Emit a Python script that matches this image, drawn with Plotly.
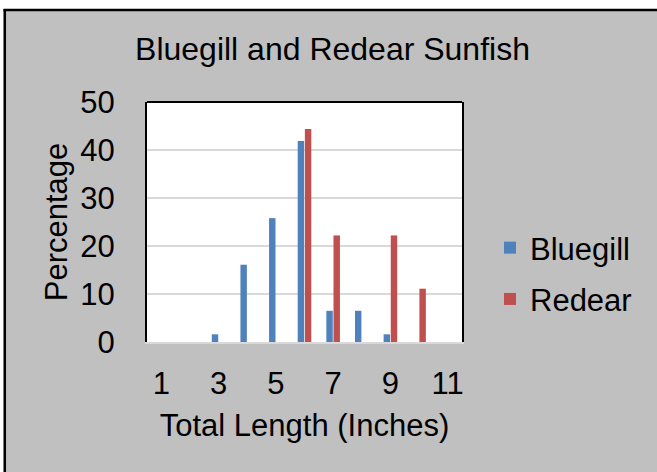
import plotly.graph_objects as go

lengths = [1, 2, 3, 4, 5, 6, 7, 8, 9, 10, 11]
bluegill = [0, 0, 1.6, 16.1, 25.8, 41.9, 6.5, 6.5, 1.6, 0, 0]
redear = [0, 0, 0, 0, 0, 44.4, 22.2, 0, 22.2, 11.1, 0]
tick_labels = ["1", "3", "5", "7", "9", "11"]
tick_vals = [1, 3, 5, 7, 9, 11]

W, H = 657, 472
L, R, T, B = 147, 195, 102, 130
PW, PH = W - L - R, H - T - B

def px(x):
    return (x - L) / PW

def py(y):
    return (H - B - y) / PH

FONT = "Liberation Sans, Arial, sans-serif"
GRAY = "#C0C0C0"

fig = go.Figure()
fig.add_trace(go.Bar(x=lengths, y=bluegill, name="Bluegill",
                     marker=dict(color="#4F81BD", line=dict(width=0)),
                     legendgroup="a"))
fig.add_trace(go.Bar(x=lengths, y=redear, name="Redear",
                     marker=dict(color="#C0504D", line=dict(width=0)),
                     legendgroup="b"))

shapes = [
    dict(type="rect", xref="paper", yref="paper", x0=px(-5), x1=px(W + 5), y0=py(-5), y1=py(9),
         fillcolor="white", line=dict(width=0), layer="below"),
    dict(type="rect", xref="paper", yref="paper", x0=px(-5), x1=px(3.5), y0=py(-5), y1=py(H + 5),
         fillcolor="white", line=dict(width=0), layer="below"),
    dict(type="line", xref="paper", yref="paper", x0=px(3.5), x1=px(W + 5), y0=py(10), y1=py(10),
         line=dict(color="black", width=2.5)),
    dict(type="line", xref="paper", yref="paper", x0=px(4.8), x1=px(4.8), y0=py(9), y1=py(H + 5),
         line=dict(color="black", width=2.5)),
    dict(type="line", xref="paper", yref="paper", x0=0, x1=1, y0=1, y1=1,
         line=dict(color="black", width=2)),
]

fig.update_layout(
    width=W, height=H,
    margin=dict(l=L, r=R, t=T, b=B, pad=0),
    paper_bgcolor=GRAY, plot_bgcolor="white",
    font=dict(family=FONT, size=31, color="black"),
    title=dict(text="Bluegill and Redear Sunfish", x=332.5 / W, xanchor="center",
               y=1 - 49 / H, yanchor="middle", font=dict(size=32)),
    bargap=0.5, bargroupgap=0.1,
    showlegend=True,
    legend=dict(x=px(490), y=py(273.5), xanchor="left", yanchor="middle",
                bgcolor="rgba(0,0,0,0)", font=dict(size=31),
                traceorder="grouped", tracegroupgap=8),
    shapes=shapes,
    xaxis=dict(range=[0.5, 11.5], tickmode="array", tickvals=tick_vals, ticktext=tick_labels,
               showgrid=False, zeroline=False, showline=True, linecolor="#D9D9D9", linewidth=2,
               ticks="outside", ticklen=13, tickcolor="rgba(0,0,0,0)",
               tickfont=dict(size=31),
               title=dict(text="Total Length (Inches)", standoff=14, font=dict(size=31))),
    yaxis=dict(range=[0, 50], dtick=10, showgrid=True, gridcolor="#D9D9D9", gridwidth=1.5,
               zeroline=False, showline=True, linecolor="black", linewidth=2, mirror=True,
               ticks="outside", ticklen=24, tickcolor="rgba(0,0,0,0)",
               tickfont=dict(size=31),
               title=dict(text="Percentage", standoff=3, font=dict(size=31))),
)

fig.write_html("out.html", config={"displayModeBar": False},
               post_script="document.body.style.margin='0px';")
